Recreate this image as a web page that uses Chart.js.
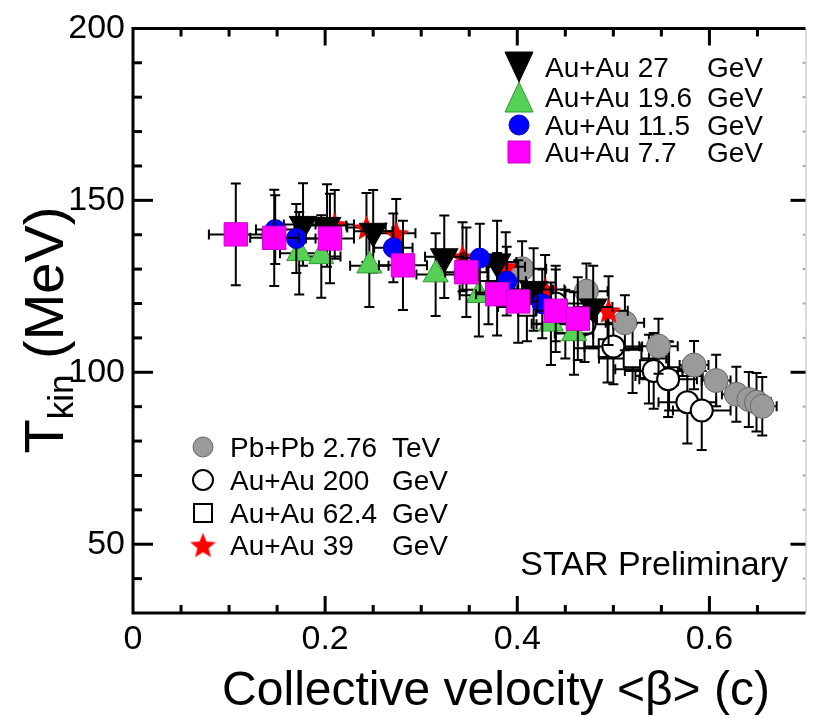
<!DOCTYPE html>
<html><head><meta charset="utf-8">
<script src="https://cdn.jsdelivr.net/npm/chart.js@4/dist/chart.umd.min.js"></script>
<style>html,body{margin:0;padding:0;background:#fff}#wrap{width:823px;height:722px;position:relative}</style>
</head><body><div id="wrap"><canvas id="c" width="823" height="722"></canvas></div>
<script>
// ---- data ----
const xMajorTicks = [0, 0.2, 0.4, 0.6];
const yMajorTicks = [50, 100, 150, 200];

const pbpb276_beta = [0.405,0.472,0.512,0.547,0.584,0.607,0.628,0.641,0.649,0.655];
const pbpb276_T    = [130.1,123.6,114.4,107.6,102.1,97.6,93.6,92.1,91.3,90.1];
const pbpb276_bErr = [0.025,0.022,0.02,0.02,0.015,0.015,0.015,0.015,0.015,0.015];
const pbpb276_TErr = [8,8,8,8,7,7.5,8,8,8.5,8.5];

const au200_beta = [0.44,0.47,0.50,0.542,0.557,0.577,0.592];
const au200_T    = [120,114,107.5,100.4,98,91.3,88.9];
const au200_bErr = [0.03,0.03,0.03,0.03,0.03,0.03,0.03];
const au200_TErr = [11,11,11,11,11,12,11.5];

const au624_beta = [0.37,0.41,0.45,0.494,0.52,0.537,0.558];
const au624_T    = [124,119,114,107,104,100.9,98.9];
const au624_bErr = [0.03,0.03,0.03,0.035,0.035,0.035,0.035];
const au624_TErr = [10,10,10,10,10,10,10];

const au39_beta = [0.21,0.243,0.274,0.343,0.388,0.429,0.495];
const au39_T    = [143,142.1,140.4,133.6,130.7,124.1,117.9];
const au39_bErr = [0.02,0.02,0.02,0.02,0.02,0.02,0.02];
const au39_TErr = [10,10,10,10,10,10,10];

const au27_beta = [0.177,0.202,0.25,0.324,0.379,0.417,0.479];
const au27_T    = [143,142.7,141,133.6,132.1,124.1,119];
const au27_bErr = [0.02,0.02,0.02,0.02,0.02,0.02,0.02];
const au27_TErr = [12,12,12,12,12,12,12];

const au196_beta = [0.173,0.196,0.246,0.315,0.360,0.435,0.459];
const au196_T    = [134.6,133.7,131,128.4,122.4,114.1,111.3];
const au196_bErr = [0.02,0.02,0.02,0.02,0.02,0.02,0.02];
const au196_TErr = [12,12,12,12,12,12,12];

const au115_beta = [0.148,0.170,0.271,0.361,0.389,0.426];
const au115_T    = [141.5,138.9,136.2,133.2,126.5,119.9];
const au115_bErr = [0.02,0.02,0.02,0.02,0.02,0.02];
const au115_TErr = [10,10,10,10,10,10];

const au77_beta = [0.107,0.147,0.205,0.281,0.347,0.379,0.401,0.440,0.463];
const au77_T    = [140.1,139.1,138.9,131.1,129.1,122.7,120.6,117.9,115.6];
const au77_bErr = [0.028,0.025,0.025,0.025,0.022,0.022,0.02,0.02,0.02];
const au77_TErr = [14.8,14,13,13,13,12,12,12,12];

// ---- helpers ----
function pts(b, t, be, te){ return b.map((v,i)=>({x:v, y:t[i], xe:be[i], ye:te[i]})); }

function makeStar(size, color){
  const cv = document.createElement('canvas');
  cv.width = size; cv.height = size;
  const g = cv.getContext('2d');
  const c = size/2, R = size/2, r = size*0.22;
  g.beginPath();
  for (let k=0;k<10;k++){
    const a = -Math.PI/2 + k*Math.PI/5;
    const rr = (k%2===0)?R:r;
    g.lineTo(c + rr*Math.cos(a), c + rr*Math.sin(a) + size*0.05);
  }
  g.closePath(); g.fillStyle = color; g.fill();
  return cv;
}
const starImg = makeStar(27, '#ff0000');

const FONT = "'Liberation Sans', Arial, Helvetica, sans-serif";

const datasets = [
  {label:'Au+Au 7.7 GeV', data: pts(au77_beta,au77_T,au77_bErr,au77_TErr), pointStyle:'rect', pointRadius:16.5, backgroundColor:'#ff00ff', borderColor:'#cc00cc', borderWidth:1, order:0},
  {label:'Au+Au 11.5 GeV', data: pts(au115_beta,au115_T,au115_bErr,au115_TErr), pointStyle:'circle', pointRadius:10, backgroundColor:'#0000ff', borderColor:'#0000cc', borderWidth:1, order:1},
  {label:'Au+Au 19.6 GeV', data: pts(au196_beta,au196_T,au196_bErr,au196_TErr), pointStyle:'triangle', pointRadius:14.5, backgroundColor:'#55d155', borderColor:'#339933', borderWidth:1, order:2},
  {label:'Au+Au 27 GeV', data: pts(au27_beta,au27_T,au27_bErr,au27_TErr), pointStyle:'triangle', rotation:180, pointRadius:16, backgroundColor:'#000000', borderColor:'#000000', borderWidth:1, order:3},
  {label:'Au+Au 39 GeV', data: pts(au39_beta,au39_T,au39_bErr,au39_TErr), pointStyle:starImg, pointRadius:13, backgroundColor:'#ff0000', borderColor:'#ff0000', order:4},
  {label:'Pb+Pb 2.76 TeV', data: pts(pbpb276_beta,pbpb276_T,pbpb276_bErr,pbpb276_TErr), pointStyle:'circle', pointRadius:12, backgroundColor:'#9a9a9a', borderColor:'#666666', borderWidth:1, order:5},
  {label:'Au+Au 200 GeV', data: pts(au200_beta,au200_T,au200_bErr,au200_TErr), pointStyle:'circle', pointRadius:11, backgroundColor:'#ffffff', borderColor:'#000000', borderWidth:2, order:6},
  {label:'Au+Au 62.4 GeV', data: pts(au624_beta,au624_T,au624_bErr,au624_TErr), pointStyle:'rect', pointRadius:12.5, backgroundColor:'#ffffff', borderColor:'#000000', borderWidth:2, order:7}
];
datasets.forEach(d=>{ d.showLine=false; d.pointHoverRadius=d.pointRadius; });

// error bars drawn just beneath each dataset's markers
const errorBars = {
  id:'errorBars',
  beforeDatasetDraw(chart, args){
    const ds = chart.data.datasets[args.index];
    const xs = chart.scales.x, ys = chart.scales.y, ctx = chart.ctx, a = chart.chartArea;
    ctx.save();
    ctx.beginPath(); ctx.rect(a.left, a.top, a.right-a.left, a.bottom-a.top); ctx.clip();
    ctx.strokeStyle = '#000'; ctx.lineWidth = 2;
    const cap = 5;
    ds.data.forEach(p=>{
      const px = xs.getPixelForValue(p.x), py = ys.getPixelForValue(p.y);
      const xl = xs.getPixelForValue(p.x - p.xe), xr = xs.getPixelForValue(p.x + p.xe);
      const yt = ys.getPixelForValue(p.y + p.ye), yb = ys.getPixelForValue(p.y - p.ye);
      ctx.beginPath();
      ctx.moveTo(px, yt); ctx.lineTo(px, yb);
      ctx.moveTo(px-cap, yt); ctx.lineTo(px+cap, yt);
      ctx.moveTo(px-cap, yb); ctx.lineTo(px+cap, yb);
      ctx.moveTo(xl, py); ctx.lineTo(xr, py);
      ctx.moveTo(xl, py-cap); ctx.lineTo(xl, py+cap);
      ctx.moveTo(xr, py-cap); ctx.lineTo(xr, py+cap);
      ctx.stroke();
    });
    ctx.restore();
  }
};

// frame with inward ticks on all sides
const frame = {
  id:'frame',
  afterDraw(chart){
    const ctx = chart.ctx, a = chart.chartArea, xs = chart.scales.x, ys = chart.scales.y;
    ctx.save();
    ctx.lineCap = 'butt';
    ctx.strokeStyle = '#bbbbbb'; ctx.lineWidth = 1;
    ctx.beginPath(); ctx.moveTo(a.right+0.5, a.top); ctx.lineTo(a.right+0.5, a.bottom); ctx.stroke();
    ctx.strokeStyle = '#000'; ctx.lineWidth = 3;
    ctx.beginPath();
    ctx.moveTo(a.left, a.top); ctx.lineTo(a.right, a.top);
    ctx.moveTo(a.left, a.top-1.5); ctx.lineTo(a.left, a.bottom+1.5);
    ctx.moveTo(a.left-1.5, a.bottom); ctx.lineTo(a.right, a.bottom);
    ctx.stroke();
    xs.ticks.forEach(t=>{
      const v = t.value, px = xs.getPixelForValue(v);
      if (px <= a.left+2 || px >= a.right-1) return;
      const major = Math.abs(v/0.2 - Math.round(v/0.2)) < 1e-6;
      const L = major ? 17 : 8;
      ctx.beginPath();
      ctx.moveTo(px, a.bottom); ctx.lineTo(px, a.bottom - L);
      ctx.moveTo(px, a.top); ctx.lineTo(px, a.top + L);
      ctx.stroke();
    });
    ys.ticks.forEach(t=>{
      const v = t.value, py = ys.getPixelForValue(v);
      if (py <= a.top+2 || py >= a.bottom-2) return;
      const major = v % 50 === 0;
      const L = major ? 20 : 9;
      ctx.strokeStyle = '#000'; ctx.lineWidth = 3;
      ctx.beginPath(); ctx.moveTo(a.left, py); ctx.lineTo(a.left + L, py); ctx.stroke();
      if (major) {
        ctx.beginPath(); ctx.moveTo(a.right, py); ctx.lineTo(a.right - 15, py); ctx.stroke();
      } else {
        ctx.strokeStyle = '#aaaaaa'; ctx.lineWidth = 2;
        ctx.beginPath(); ctx.moveTo(a.right, py); ctx.lineTo(a.right - 3, py); ctx.stroke();
      }
    });
    ctx.restore();
  }
};

function legendMarker(ctx, ds, x, y){
  const st = ds.pointStyle;
  ctx.save();
  ctx.fillStyle = ds.backgroundColor; ctx.strokeStyle = ds.borderColor;
  ctx.lineWidth = ds.borderWidth || 1;
  if (st instanceof HTMLCanvasElement) { ctx.drawImage(st, x - st.width/2, y - st.height/2); }
  else if (st === 'rect') {
    const s = ds.label.indexOf('62.4')>=0 ? 18 : 22;
    ctx.beginPath(); ctx.rect(x-s/2, y-s/2, s, s); ctx.fill(); ctx.stroke();
  } else if (st === 'circle') {
    ctx.beginPath(); ctx.arc(x, y, 10, 0, Math.PI*2); ctx.fill(); ctx.stroke();
  } else if (st === 'triangle') {
    const w = 28, h = 30, down = ds.rotation === 180;
    ctx.beginPath();
    if (down) { ctx.moveTo(x-w/2, y-h/2); ctx.lineTo(x+w/2, y-h/2); ctx.lineTo(x, y+h/2); }
    else { ctx.moveTo(x-w/2, y+h/2); ctx.lineTo(x+w/2, y+h/2); ctx.lineTo(x, y-h/2); }
    ctx.closePath(); ctx.fill(); ctx.stroke();
  }
  ctx.restore();
}

const texts = {
  id:'texts',
  afterDraw(chart){
    const ctx = chart.ctx;
    const byLabel = l => chart.data.datasets.find(d=>d.label===l);
    ctx.save();
    ctx.fillStyle = '#000'; ctx.textBaseline = 'middle';
    const top = [['Au+Au 27 GeV','Au+Au 27'],['Au+Au 19.6 GeV','Au+Au 19.6'],['Au+Au 11.5 GeV','Au+Au 11.5'],['Au+Au 7.7 GeV','Au+Au 7.7']];
    const topY = [67, 97, 125, 152];
    ctx.font = '28px ' + FONT;
    top.forEach((r,i)=>{
      legendMarker(ctx, byLabel(r[0]), 519, topY[i]);
      ctx.textAlign = 'left'; ctx.fillText(r[1], 545, topY[i]+2);
      ctx.fillText('GeV', 707, topY[i]+2);
    });
    const bot = [['Pb+Pb 2.76 TeV','Pb+Pb 2.76','TeV'],['Au+Au 200 GeV','Au+Au 200','GeV'],['Au+Au 62.4 GeV','Au+Au 62.4','GeV'],['Au+Au 39 GeV','Au+Au 39','GeV']];
    const botY = [447, 480, 513, 545];
    bot.forEach((r,i)=>{
      legendMarker(ctx, byLabel(r[0]), 203, botY[i]);
      ctx.fillText(r[1], 230, botY[i]+2);
      ctx.fillText(r[2], 392, botY[i]+2);
    });
    ctx.font = '34px ' + FONT; ctx.textAlign = 'right';
    ctx.fillText('STAR Preliminary', 788, 566);
    ctx.font = '48px ' + FONT; ctx.textAlign = 'center';
    ctx.fillText('Collective velocity <\u03b2> (c)', 496, 692);
    ctx.translate(45, 330); ctx.rotate(-Math.PI/2);
    const fBig = '56px ' + FONT, fSub = '35px ' + FONT;
    ctx.font = fBig; const wT = ctx.measureText('T').width, wM = ctx.measureText(' (MeV)').width;
    ctx.font = fSub; const wK = ctx.measureText('kin').width;
    let sx = -(wT + wK + wM)/2;
    ctx.textAlign = 'left'; ctx.textBaseline = 'alphabetic';
    ctx.font = fBig; ctx.fillText('T', sx, 18); sx += wT;
    ctx.font = fSub; ctx.fillText('kin', sx, 28); sx += wK;
    ctx.font = fBig; ctx.fillText(' (MeV)', sx, 18);
    ctx.restore();
  }
};

new Chart(document.getElementById('c'), {
  type:'scatter',
  data:{ datasets },
  options:{
    responsive:false, animation:false, devicePixelRatio:1,
    layout:{ padding:{ top:20, right:8, left:0, bottom:0 } },
    plugins:{ legend:{display:false}, tooltip:{enabled:false} },
    scales:{
      x:{
        type:'linear', min:0, max:0.7,
        afterFit(s){ s.height = 109; },
        afterBuildTicks(s){ s.ticks = []; for (let k=0;k<=14;k++) s.ticks.push({value: Math.round(k*5)/100}); },
        grid:{ display:false, drawTicks:false }, border:{ display:false },
        ticks:{ autoSkip:false, maxRotation:0, padding:6, color:'#000',
          font:{ size:34, family:FONT },
          callback(v){ const r = Math.round(v*100)/100; return xMajorTicks.some(m=>Math.abs(m-r)<1e-6) ? String(r) : ''; } }
      },
      y:{
        type:'linear', min:30, max:200,
        afterFit(s){ s.width = 133; },
        afterBuildTicks(s){ s.ticks = []; for (let v=30; v<=200; v+=10) s.ticks.push({value:v}); },
        grid:{ display:false, drawTicks:false }, border:{ display:false },
        ticks:{ autoSkip:false, padding:8, color:'#000',
          font:{ size:34, family:FONT },
          callback(v){ return yMajorTicks.includes(v) ? String(v) : ''; } }
      }
    }
  },
  plugins:[errorBars, frame, texts]
});
</script>
</body></html>
